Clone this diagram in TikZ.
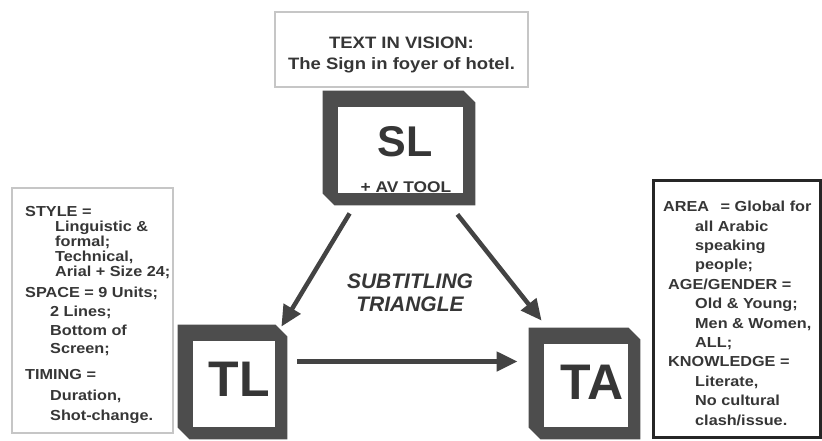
\documentclass[tikz,border=0pt]{standalone}
\usepackage{fontspec}
\setmainfont{Liberation Sans}
\newfontfamily\widesans{Liberation Sans}[FakeStretch=1.12]
\usetikzlibrary{arrows.meta,backgrounds}
\definecolor{ink}{HTML}{363636}
\definecolor{bevel}{HTML}{4D4D4D}
\definecolor{shaft}{HTML}{434343}
\tikzstyle{textbox} = [draw=gray!45, line width=1.5pt]
\tikzstyle{areabox} = [draw=black!85, line width=3pt, minimum width=167pt, minimum height=257pt]
\tikzstyle{screen} = [fill=white, draw=bevel, line width=0.8pt]
\tikzstyle{big} = [text=ink, inner sep=0pt, font={\bfseries\fontsize{50}{50}\selectfont}]
\tikzstyle{notes} = [text=ink, align=left, inner sep=0pt, anchor=north west, font={\widesans\bfseries\fontsize{14.5}{15}\selectfont}]
\tikzstyle{arr} = [color=shaft, line width=4.5pt, -{Triangle[length=21pt,width=19pt]}]

\begin{document}
\begin{tikzpicture}[x=1pt,y=-1pt]
    \useasboundingbox (0,0) rectangle (822,440);
    % what is seen on screen
    \node[textbox, minimum width=253pt, minimum height=75pt](vision) at (401.5,49.5){};
    \node[text=ink, align=center, inner sep=0pt, font={\widesans\bfseries\fontsize{16.5}{21}\selectfont}](visiontxt) at (401.5,55){TEXT IN VISION:\\The Sign in foyer of hotel.};
    % the three corners
    \node[screen, minimum width=126pt, minimum height=87pt](sl) at (400,149.5){};
    \node[screen, minimum width=83pt, minimum height=87pt](tl) at (233.5,383.5){};
    \node[screen, minimum width=85pt, minimum height=84pt](ta) at (585.5,385){};
    \node[big, font={\bfseries\fontsize{43}{43}\selectfont}](sltxt) at (405,142){SL};
    \node[text=ink, inner sep=0pt, font={\widesans\bfseries\fontsize{15.5}{16}\selectfont}](sltool) at (406,187){+ AV TOOL};
    \node[big](tltxt) at (239,379){TL};
    \node[big](tatxt) at (592,382){TA};
    \begin{scope}[on background layer]
        \foreach \b in {sl,tl,ta}
            \fill[bevel] ([shift={(-14,-15)}]\b.north west) -- ([shift={(0,-15)}]\b.north east)
                -- ([shift={(12,-3)}]\b.north east) -- ([shift={(12,12)}]\b.south east)
                -- ([shift={(-2,12)}]\b.south west) -- ([shift={(-14,0)}]\b.south west) -- cycle;
    \end{scope}
    % subtitle constraints
    \node[textbox, minimum width=161pt, minimum height=245pt](style) at (92.5,310.5){};
    \node[notes](styletxt) at (25,205.8){STYLE =\\
        \hspace*{30pt}Linguistic \&\\
        \hspace*{30pt}formal;\\
        \hspace*{30pt}Technical,\\
        \hspace*{30pt}Arial + Size 24;\\[6pt]
        SPACE = 9 Units;\\[4pt]
        \hspace*{25pt}2 Lines;\\[4pt]
        \hspace*{25pt}Bottom of\\[3pt]
        \hspace*{25pt}Screen;\\[11pt]
        TIMING =\\[6pt]
        \hspace*{25pt}Duration,\\[5pt]
        \hspace*{25pt}Shot-change.};
    % audience
    \node[areabox](area) at (736.5,308.5){};
    \node[notes, font={\widesans\bfseries\fontsize{14.5}{19.4}\selectfont}](areatxt) at (663,201){AREA\hspace{7pt} = Global for\\
        \hspace*{32pt}all Arabic\\
        \hspace*{32pt}speaking\\
        \hspace*{32pt}people;\\
        \hspace*{5pt}AGE/GENDER =\\
        \hspace*{32pt}Old \& Young;\\
        \hspace*{32pt}Men \& Women,\\
        \hspace*{32pt}ALL;\\
        \hspace*{5pt}KNOWLEDGE =\\
        \hspace*{32pt}Literate,\\
        \hspace*{32pt}No cultural\\
        \hspace*{32pt}clash/issue.};
    \node[text=ink, align=center, inner sep=0pt, font={\bfseries\itshape\fontsize{21}{23}\selectfont}](triangle) at (410,292.5){SUBTITLING\\TRIANGLE};
    \draw[arr]([shift={(13,20)}]sl.south west)--([shift={(6,-13)}]tl.north east);
    \draw[arr]([shift={(-6,21)}]sl.south east)--([shift={(-1,-22)}]ta.north west);
    \draw[arr]([shift={(22,-22)}]tl.east)--([shift={(-25,-23.5)}]ta.west);
\end{tikzpicture}
\end{document}
